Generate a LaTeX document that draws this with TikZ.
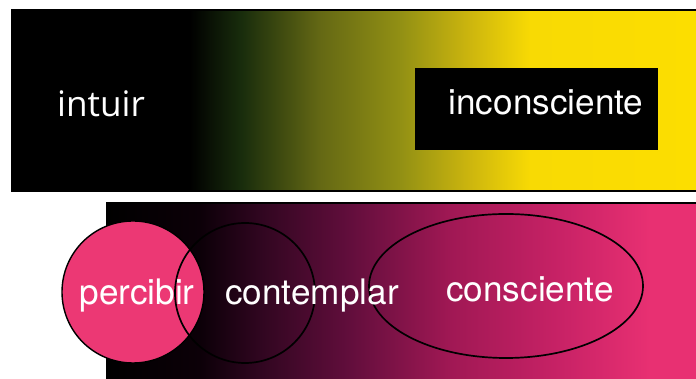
\documentclass[tikz,border=0pt]{standalone}
\usepackage{fontspec}
\setmainfont{TeX Gyre Heros}
\newfontfamily\openfont{Open Sans}
\usepackage{xcolor}

\definecolor{pinkfill}{RGB}{236,56,116}
\definecolor{ydark}{RGB}{24,44,12}
\definecolor{yolive}{RGB}{100,104,20}
\definecolor{ymid}{RGB}{146,144,20}
\definecolor{ygold}{RGB}{205,182,14}
\definecolor{yfull}{RGB}{248,218,4}
\definecolor{ptop}{RGB}{252,222,0}
\definecolor{mdark}{RGB}{12,0,8}
\definecolor{mplum}{RGB}{48,6,32}
\definecolor{mwine}{RGB}{98,14,60}
\definecolor{mberry}{RGB}{160,24,84}
\definecolor{mrose}{RGB}{200,34,102}
\definecolor{mpink}{RGB}{232,48,114}

\pgfdeclarehorizontalshading{yellowband}{100bp}{color(0bp)=(black); color(25bp)=(black);
  color(38bp)=(black); color(41.7bp)=(ydark); color(47.5bp)=(yolive); color(53.4bp)=(ymid);
  color(58.5bp)=(ygold); color(62.9bp)=(yfull); color(75bp)=(ptop); color(100bp)=(ptop)}
\pgfdeclarehorizontalshading{pinkband}{100bp}{color(0bp)=(black); color(25bp)=(black);
  color(32.9bp)=(mdark); color(38bp)=(mplum); color(45.6bp)=(mwine); color(54.1bp)=(mberry);
  color(63.5bp)=(mrose); color(71.1bp)=(mpink); color(75bp)=(mpink); color(100bp)=(mpink)}

\begin{document}
\begin{tikzpicture}[x=0.025cm, y=0.025cm,
    lbl/.style={text=white, font=\fontsize{25}{30}\selectfont, inner sep=0pt, anchor=base}]
    \useasboundingbox (0,0) rectangle (696,379);
    \fill[white] (0,0) rectangle (696,379);

    % upper band
    \shade[shading=yellowband] (12,188) rectangle (696,369);
    \draw[line width=0.8pt] (696,369) -- (12,369) -- (12,188) -- (696,188);
    \fill[black] (415,229) rectangle (658,311);
    \node (intuir) [lbl, font=\openfont\fontsize{25}{30}\selectfont] at (101,262) {intuir};
    \node (inconsciente) [lbl] at (546,264) {inconsciente};

    % lower band
    \shade[shading=pinkband] (107,0) rectangle (696,176);
    \draw[line width=0.8pt] (107,0) -- (107,176) -- (696,176);
    \fill[pinkfill, draw=black, line width=1pt] (133,87) circle (71);
    \draw[black, line width=1.2pt] (245,86) circle (70);
    \draw[black, line width=1.2pt] (506,93) ellipse (137 and 72);
    \node (percibir) [lbl] at (137,74) {percibir};
    \node (contemplar) [lbl] at (312,74) {contemplar};
    \node (consciente) [lbl] at (530,77) {consciente};
\end{tikzpicture}
\end{document}
